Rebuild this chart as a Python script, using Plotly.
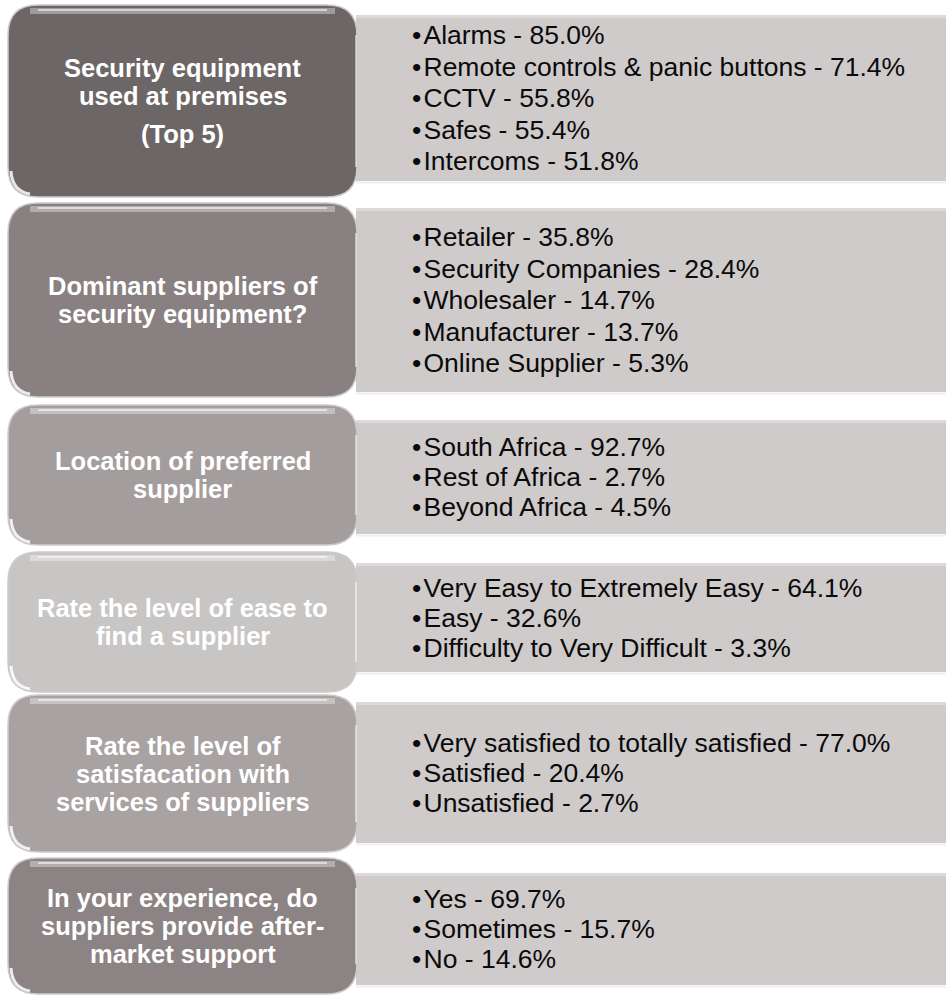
import plotly.graph_objects as go

# ---------------- data ----------------
questions = [
    ["Security equipment", "used at premises", "", "(Top 5)"],
    ["Dominant suppliers of", "security equipment?"],
    ["Location of preferred", "supplier"],
    ["Rate the level of ease to", "find a supplier"],
    ["Rate the level of", "satisfacation with", "services of suppliers"],
    ["In your experience, do", "suppliers provide after-", "market support"],
]

answers_labels = [
    ["Alarms", "Remote controls & panic buttons", "CCTV", "Safes", "Intercoms"],
    ["Retailer", "Security Companies", "Wholesaler", "Manufacturer", "Online Supplier"],
    ["South Africa", "Rest of Africa", "Beyond Africa"],
    ["Very Easy to Extremely Easy", "Easy", "Difficulty to Very Difficult"],
    ["Very satisfied to totally satisfied", "Satisfied", "Unsatisfied"],
    ["Yes", "Sometimes", "No"],
]

answers_values = [
    [85.0, 71.4, 55.8, 55.4, 51.8],
    [35.8, 28.4, 14.7, 13.7, 5.3],
    [92.7, 2.7, 4.5],
    [64.1, 32.6, 3.3],
    [77.0, 20.4, 2.7],
    [69.7, 15.7, 14.6],
]

# ---------------- layout / style ----------------
W, H = 946, 995
box_rows = [(5, 197), (203, 397), (405, 545), (552, 692), (695, 852), (858, 994)]
panel_rows = [(15, 181), (208, 392), (420, 534), (563, 672), (702, 843), (873, 985)]
box_x0, box_x1 = 8, 357
panel_x0, panel_x1 = 356, 946
box_fill = ["#6d6666", "#898181", "#a49d9d", "#c8c5c5", "#a8a2a2", "#8c8484"]
panel_fill = "#cfcbcb"
FONT = "Arial, Liberation Sans, sans-serif"
title_size = 25.5
item_size = 26.5


def rrect(x0, y0, x1, y1, r):
    return (f"M {x0+r},{y0} L {x1-r},{y0} Q {x1},{y0} {x1},{y0+r} "
            f"L {x1},{y1-r} Q {x1},{y1} {x1-r},{y1} L {x0+r},{y1} "
            f"Q {x0},{y1} {x0},{y1-r} L {x0},{y0+r} Q {x0},{y0} {x0+r},{y0} Z")


shapes = []
annotations = []

for i in range(len(questions)):
    py0, py1 = panel_rows[i]
    # right panel
    shapes.append(dict(type="rect", x0=panel_x0, x1=panel_x1, y0=py0, y1=py1,
                       fillcolor=panel_fill, line=dict(width=0), layer="below"))
    shapes.append(dict(type="rect", x0=panel_x0, x1=panel_x1, y0=py0, y1=py0 + 3,
                       fillcolor="#dcd9d9", line=dict(width=0), layer="below"))
    shapes.append(dict(type="line", x0=panel_x0, x1=panel_x1, y0=py1 + 1.5, y1=py1 + 1.5,
                       line=dict(color="#eeeeee", width=2), layer="below"))

    by0, by1 = box_rows[i]
    r = 30
    shapes.append(dict(type="path", path=rrect(box_x0, by0, box_x1, by1, r),
                       fillcolor=box_fill[i], line=dict(color="#cfcaca", width=1.5),
                       layer="below"))
    # top highlight
    shapes.append(dict(type="line", x0=box_x0 + 22, x1=box_x1 - 22, y0=by0 + 6, y1=by0 + 6,
                       line=dict(color="rgba(255,255,255,0.35)", width=6), layer="below"))
    shapes.append(dict(type="line", x0=box_x0 + 30, x1=box_x1 - 30, y0=by0 + 5, y1=by0 + 5,
                       line=dict(color="rgba(255,255,255,0.55)", width=2), layer="below"))
    # bottom-left corner highlight
    shapes.append(dict(type="path",
                       path=f"M {box_x0+3},{by1-26} Q {box_x0+4},{by1-6} {box_x0+22},{by1-3}",
                       line=dict(color="rgba(255,255,255,0.85)", width=3), layer="below"))
    # right edge highlight
    shapes.append(dict(type="line", x0=box_x1 - 1, x1=box_x1 - 1, y0=by0 + r, y1=by1 - r,
                       line=dict(color="rgba(255,255,255,0.5)", width=2), layer="below"))

    # question text
    lines = questions[i]
    step = 28
    offsets = []
    y = 0.0
    for ln in lines:
        if ln == "":
            y += 10
            continue
        offsets.append((ln, y))
        y += step
    total = offsets[-1][1]
    cy = (by0 + by1) / 2
    for ln, off in offsets:
        annotations.append(dict(x=(box_x0 + box_x1) / 2, y=cy - total / 2 + off, xref="x", yref="y",
                                text=f"<b>{ln}</b>", showarrow=False, xanchor="center", yanchor="middle",
                                font=dict(family=FONT, size=title_size, color="white")))

    # answer items
    labels = answers_labels[i]
    vals = answers_values[i]
    n = len(labels)
    istep = 31.5 if n > 3 else 30
    pcy = (py0 + py1) / 2
    for k in range(n):
        yy = pcy + (k - (n - 1) / 2) * istep
        annotations.append(dict(x=410, y=yy, xref="x", yref="y",
                                text=f"•\u200a{labels[k]} - {vals[k]:.1f}%", showarrow=False,
                                xanchor="left", yanchor="middle",
                                font=dict(family=FONT, size=item_size, color="#0a0a0a")))

fig = go.Figure()
fig.add_trace(go.Scatter(x=[0, W], y=[0, H], mode="markers", marker=dict(opacity=0),
                         hoverinfo="skip", showlegend=False))
fig.update_layout(
    width=W, height=H, margin=dict(l=0, r=0, t=0, b=0),
    paper_bgcolor="white", plot_bgcolor="white",
    xaxis=dict(range=[0, W], visible=False, fixedrange=True),
    yaxis=dict(range=[H, 0], visible=False, fixedrange=True),
    shapes=shapes, annotations=annotations, showlegend=False,
)
fig.write_html("out.html",
               post_script="document.body.style.margin='0';"
                           "document.documentElement.style.overflow='hidden';",
               config={"displayModeBar": False})
